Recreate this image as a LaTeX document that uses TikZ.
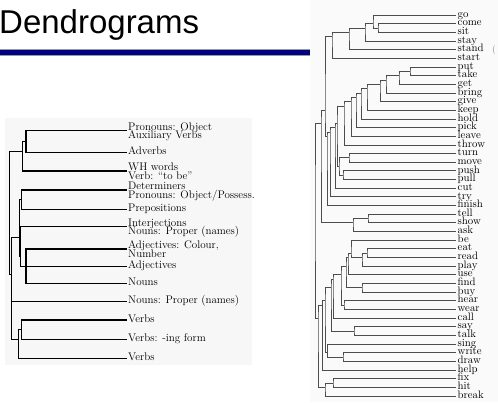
\documentclass[tikz,border=0pt]{standalone}
\usepackage{fontspec}
\newfontfamily\titlefont{Liberation Sans}
\definecolor{navyline}{RGB}{0,0,128}
\newcommand\dgy[1]{15+(#1-1)*8.66}
\begin{document}
\begin{tikzpicture}[x=1pt,y=-1pt,
  ll/.style={line width=1.2pt, black},
  rl/.style={line width=0.8pt, black!70},
  llab/.style={font=\fontsize{11}{9}\selectfont, inner sep=0pt, anchor=base west},
  rlab/.style={font=\fontsize{10.8}{9}\selectfont, inner sep=0pt, anchor=mid west}]
\useasboundingbox (0,0) rectangle (498,402);
% title and rule
\node[anchor=base west, inner sep=0pt, font=\titlefont\fontsize{33}{36}\selectfont] (title) at (-1,33) {Dendrograms};
\fill[black!40] (0,49.3) rectangle (310,55.7);
\fill[navyline] (0,50.3) rectangle (310,54.7);
% backgrounds of the two figures
\fill[black!3] (5,118) rectangle (252,365);
\fill[black!2] (310,0) rectangle (498,402);
\node[anchor=base west, inner sep=0pt, text=black!50, font=\fontsize{9}{9}\selectfont] (clip) at (492,52) {(};

% ---------------- left dendrogram ----------------
\coordinate (a1) at (127,130.5);
\coordinate (a2) at (127,152.5);
\coordinate (a3) at (127,171);
\coordinate (a4) at (127,190);
\coordinate (a5) at (127,209.3);
\coordinate (a6) at (127,226.5);
\coordinate (a7) at (127,249);
\coordinate (a8) at (127,266.5);
\coordinate (a9) at (127,283.3);
\coordinate (a10) at (127,301.7);
\coordinate (a11) at (127,320);
\coordinate (a12) at (127,339.3);
\coordinate (a13) at (127,358.3);

\node[llab] (la1) at (128,130) {Pronouns: Object};
\node[llab] (la1b) at (128,138.8) {Auxiliary Verbs};
\node[llab,anchor=mid west] (la2) at (128,152.5) {Adverbs};
\node[llab] (la3) at (128,170.5) {WH words};
\node[llab] (la3b) at (128,179.3) {Verb: “to be”};
\node[llab] (la4) at (128,189.5) {Determiners};
\node[llab] (la4b) at (128,198.3) {Pronouns: Object/Possess.};
\node[llab,anchor=mid west] (la5) at (128,209.3) {Prepositions};
\node[llab] (la6) at (128,226) {Interjections};
\node[llab] (la6b) at (128,234.8) {Nouns: Proper (names)};
\node[llab] (la7) at (128,248.5) {Adjectives: Colour,};
\node[llab] (la7b) at (128,257.3) {Number};
\node[llab,anchor=mid west] (la8) at (128,266.5) {Adjectives};
\node[llab,anchor=mid west] (la9) at (128,283.3) {Nouns};
\node[llab,anchor=mid west] (la10) at (128,301.7) {Nouns: Proper (names)};
\node[llab,anchor=mid west] (la11) at (128,320) {Verbs};
\node[llab,anchor=mid west] (la12) at (128,339.3) {Verbs: -ing form};
\node[llab,anchor=mid west] (la13) at (128,358.3) {Verbs};

\coordinate (Q1) at (26,141.5);
\coordinate (Q2) at (22.7,151.3);
\coordinate (Q3) at (21.7,199.65);
\coordinate (Q4) at (26,266.15);
\coordinate (Q6) at (20.7,256.3);
\coordinate (Q7) at (19.3,237.4);
\coordinate (V1) at (21.7,329.65);
\coordinate (V) at (18.3,339.2);
\coordinate (S) at (11.7,274.4);
\coordinate (R) at (9.5,246);

\draw[ll] (a1) -| (Q1) |- (a2);
\draw[ll] (Q1) -| (Q2) |- (a3);
\draw[ll] (a4) -| (Q3) |- (a5);
\draw[ll] (a7) -| (Q4) |- (a9);
\draw[ll] (a6) -| (Q6) |- (a8);
\draw[ll] (Q6) |- (Q4);
\draw[ll] (Q3) -| (Q7) |- (Q6);
\draw[ll] (a11) -| (V1) |- (a12);
\draw[ll] (V1) -| (V) |- (a13);
\draw[ll] (Q7) -| (S) |- (V);
\draw[ll] (S) |- (a10);
\draw[ll] (Q2) -| (R) |- (S);

% ---------------- right dendrogram ----------------
\foreach \w [count=\i] in {go,come,sit,stay,stand,start,put,take,get,bring,give,keep,hold,pick,leave,throw,turn,move,push,pull,cut,try,finish,tell,show,ask,be,eat,read,play,use,find,buy,hear,wear,call,say,talk,sing,write,draw,help,fix,hit,break}{
  \coordinate (e-\w) at (456,{\dgy{\i}});
  \node[rlab] (t-\w) at (457.5,{\dgy{\i}}) {\w};
}
\coordinate (cs) at (378,{\dgy{2.5}});
\coordinate (gcs) at (373,{\dgy{2}});
\coordinate (gcss) at (365,{\dgy{2.5}});
\coordinate (t5) at (349,{\dgy{3}});
\coordinate (t6) at (332,{\dgy{3.5}});
\coordinate (n1) at (410,{\dgy{7.5}});
\coordinate (n2) at (399,{\dgy{8}});
\coordinate (n3) at (386,{\dgy{8.5}});
\coordinate (n4) at (380,{\dgy{9}});
\coordinate (n5) at (367,{\dgy{9.5}});
\coordinate (n6) at (361,{\dgy{10}});
\coordinate (n7) at (356,{\dgy{10.5}});
\coordinate (n8) at (351,{\dgy{11}});
\coordinate (n9) at (344,{\dgy{11.5}});
\coordinate (tm) at (349,{\dgy{17.5}});
\coordinate (pp) at (343,{\dgy{19.5}});
\coordinate (tmpp) at (339,{\dgy{18.5}});
\coordinate (n10) at (337,{\dgy{13.5}});
\coordinate (n11) at (335,{\dgy{14}});
\coordinate (n12) at (330,{\dgy{14.5}});
\coordinate (n13) at (327,{\dgy{15}});
\coordinate (C) at (325,{\dgy{12}});
\coordinate (ts) at (368,{\dgy{24.5}});
\coordinate (tsa) at (353,{\dgy{25}});
\coordinate (A) at (321,{\dgy{13.5}});
\coordinate (er) at (367,{\dgy{28.5}});
\coordinate (erp) at (362,{\dgy{29}});
\coordinate (D9) at (351,{\dgy{28.5}});
\coordinate (D8) at (348,{\dgy{29}});
\coordinate (fb) at (362,{\dgy{32.5}});
\coordinate (D7) at (346,{\dgy{30}});
\coordinate (hw) at (344,{\dgy{34.5}});
\coordinate (D6) at (341,{\dgy{31}});
\coordinate (D5) at (333,{\dgy{31.5}});
\coordinate (st) at (354,{\dgy{37.5}});
\coordinate (D4) at (331,{\dgy{32.5}});
\coordinate (wd) at (343,{\dgy{40.5}});
\coordinate (F) at (327.5,{\dgy{40}});
\coordinate (D2) at (325,{\dgy{34}});
\coordinate (D1) at (322.5,{\dgy{34.5}});
\coordinate (fh) at (333,{\dgy{43.5}});
\coordinate (fhb) at (325,{\dgy{44}});
\coordinate (D) at (318,{\dgy{36}});
\coordinate (root) at (315,{\dgy{23}});

\draw[rl] (e-come) -| (cs) |- (e-sit);
\draw[rl] (e-go) -| (gcs) |- (cs);
\draw[rl] (gcs) -| (gcss) |- (e-stay);
\draw[rl] (gcss) -| (t5) |- (e-stand);
\draw[rl] (t5) -| (t6) |- (e-start);
\draw[rl] (e-put) -| (n1) |- (e-take);
\draw[rl] (n1) -| (n2) |- (e-get);
\draw[rl] (n2) -| (n3) |- (e-bring);
\draw[rl] (n3) -| (n4) |- (e-give);
\draw[rl] (n4) -| (n5) |- (e-keep);
\draw[rl] (n5) -| (n6) |- (e-hold);
\draw[rl] (n6) -| (n7) |- (e-pick);
\draw[rl] (n7) -| (n8) |- (e-leave);
\draw[rl] (n8) -| (n9) |- (e-throw);
\draw[rl] (e-turn) -| (tm) |- (e-move);
\draw[rl] (e-push) -| (pp) |- (e-pull);
\draw[rl] (tm) -| (tmpp) |- (pp);
\draw[rl] (n9) -| (n10) |- (tmpp);
\draw[rl] (n10) -| (n11) |- (e-cut);
\draw[rl] (n11) -| (n12) |- (e-try);
\draw[rl] (n12) -| (n13) |- (e-finish);
\draw[rl] (t6) -| (C) |- (n13);
\draw[rl] (e-tell) -| (ts) |- (e-show);
\draw[rl] (ts) -| (tsa) |- (e-ask);
\draw[rl] (C) -| (A) |- (tsa);
\draw[rl] (e-eat) -| (er) |- (e-read);
\draw[rl] (er) -| (erp) |- (e-play);
\draw[rl] (e-be) -| (D9) |- (erp);
\draw[rl] (D9) -| (D8) |- (e-use);
\draw[rl] (e-find) -| (fb) |- (e-buy);
\draw[rl] (D8) -| (D7) |- (fb);
\draw[rl] (e-hear) -| (hw) |- (e-wear);
\draw[rl] (D7) -| (D6) |- (hw);
\draw[rl] (D6) -| (D5) |- (e-call);
\draw[rl] (e-say) -| (st) |- (e-talk);
\draw[rl] (D5) -| (D4) |- (st);
\draw[rl] (e-write) -| (wd) |- (e-draw);
\draw[rl] (e-sing) -| (F) |- (wd);
\draw[rl] (D4) -| (D2) |- (F);
\draw[rl] (D2) -| (D1) |- (e-help);
\draw[rl] (e-fix) -| (fh) |- (e-hit);
\draw[rl] (fh) -| (fhb) |- (e-break);
\draw[rl] (D1) -| (D) |- (fhb);
\draw[rl] (A) -| (root) |- (D);
\end{tikzpicture}
\end{document}
